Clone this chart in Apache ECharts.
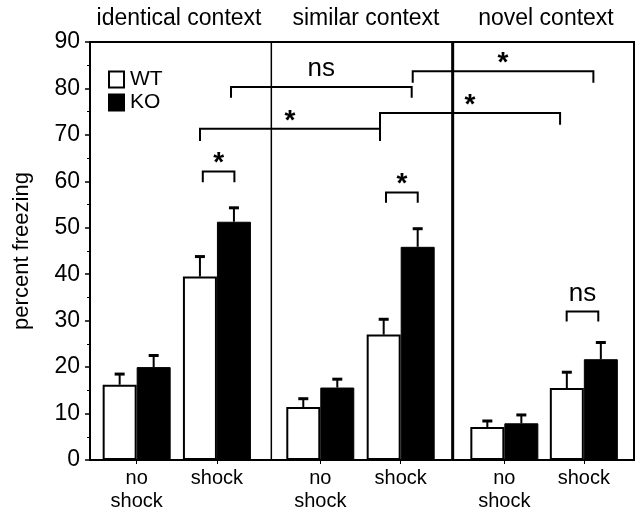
<!DOCTYPE html>
<html><head><meta charset="utf-8">
<script src="https://cdn.jsdelivr.net/npm/echarts@6/dist/echarts.min.js"></script>
<style>html,body{margin:0;padding:0;background:#fff}#c{width:643px;height:513px}</style>
</head><body><div id="c"></div>
<script>
const contexts = ['identical context', 'similar context', 'novel context'];
const groupLabels = ['no\nshock', 'shock', 'no\nshock', 'shock', 'no\nshock', 'shock'];
const groupPos = [0.772, 2.10, 3.81, 5.14, 6.855, 8.17];
const dividers = [3, 6];
const wtMean = [16.2, 39.5, 11.4, 27.0, 7.1, 15.5];
const wtSem  = [2.3, 4.3, 1.8, 3.3, 1.3, 3.4];
const koMean = [20.0, 51.3, 15.6, 45.9, 7.9, 21.7];
const koSem  = [2.5, 3.0, 1.8, 3.9, 1.8, 3.6];
const yTicks = [0, 10, 20, 30, 40, 50, 60, 70, 80, 90];
// brackets: [x1, x2, y, leftLegBottom, rightLegBottom]
const brackets = [
  [1.866, 2.389, 62.1, 59.8, 59.8],
  [4.897, 5.422, 57.6, 55.4, 55.4],
  [7.886, 8.409, 32.0, 29.8, 29.8],
  [1.820, 4.798, 71.3, 68.7, 68.7],
  [4.798, 7.777, 74.7, 71.3, 72.2],
  [2.333, 5.322, 80.3, 78.0, 78.0],
  [5.339, 8.328, 83.7, 81.2, 81.2]
];
const bracketLabels = ['*', '*', 'ns', '*', '*', 'ns', '*'];

const FONT = 'Liberation Sans';
const chart = echarts.init(document.getElementById('c'), null, {renderer: 'canvas'});
const halfBar = 17;

const errData = [];
groupPos.forEach((x, i) => { errData.push([x, wtMean[i], wtSem[i], -1]); errData.push([x, koMean[i], koSem[i], 1]); });

chart.setOption({
  animation: false,
  backgroundColor: '#fff',
  title: contexts.map((t, i) => ({
    text: t, left: [179, 366, 546][i], top: 7, textAlign: 'center', padding: 0,
    textStyle: {fontFamily: FONT, fontSize: 23, fontWeight: 'normal', color: '#000'}
  })),
  legend: {
    orient: 'vertical', left: 108, top: 69, padding: 0, itemWidth: 15, itemHeight: 16, itemGap: 2,
    icon: 'rect', data: ['WT', 'KO'],
    textStyle: {fontFamily: FONT, fontSize: 21, color: '#000', padding: [0, 0, 0, 1]}
  },
  grid: {left: 90, right: 9, top: 42, bottom: 52, show: true, borderColor: '#000', borderWidth: 2, backgroundColor: 'transparent'},
  xAxis: {
    type: 'value', min: 0, max: 9,
    splitLine: {show: false},
    axisLine: {lineStyle: {color: '#000', width: 2}},
    axisTick: {show: true, customValues: groupPos, length: 4, lineStyle: {color: '#000', width: 1}},
    axisLabel: {
      customValues: groupPos, margin: 7,
      fontFamily: FONT, fontSize: 20, color: '#000', lineHeight: 23,
      formatter: v => { const i = groupPos.findIndex(p => Math.abs(p - v) < 1e-6); return i >= 0 ? groupLabels[i] : ''; }
    }
  },
  yAxis: {
    type: 'value', min: 0, max: 90, interval: 10,
    name: 'percent freezing', nameLocation: 'middle', nameRotate: 90, nameGap: 57,
    nameTextStyle: {fontFamily: FONT, fontSize: 22, color: '#000'},
    splitLine: {show: false},
    axisLine: {show: true, lineStyle: {color: '#000', width: 2}},
    axisTick: {show: true, length: 5, lineStyle: {color: '#000', width: 1.5}},
    minorTick: {show: true, splitNumber: 2, length: 3, lineStyle: {color: '#000', width: 1}},
    axisLabel: {fontFamily: FONT, fontSize: 23, color: '#000', margin: 10,
      formatter: v => yTicks.includes(v) ? String(v) : ''}
  },
  series: [
    {
      name: 'WT', type: 'bar', barWidth: 34, barGap: '0%',
      data: groupPos.map((x, i) => [x, wtMean[i]]),
      itemStyle: {color: '#fff', borderColor: '#000', borderWidth: 2}, z: 2
    },
    {
      name: 'KO', type: 'bar', barWidth: 34, barGap: '0%',
      data: groupPos.map((x, i) => [x, koMean[i]]),
      itemStyle: {color: '#000', borderColor: '#000', borderWidth: 1}, z: 2
    },
    {
      type: 'custom', name: 'err', z: 3, silent: true,
      data: errData,
      renderItem: (params, api) => {
        const x = api.value(0), m = api.value(1), s = api.value(2), side = api.value(3);
        const b = api.coord([x, m]); const t = api.coord([x, m + s]);
        const cx = b[0] + side * halfBar;
        return {type: 'group', children: [
          {type: 'line', shape: {x1: cx, y1: b[1], x2: cx, y2: t[1]}, style: {stroke: '#000', lineWidth: 2}},
          {type: 'line', shape: {x1: cx - 5, y1: t[1], x2: cx + 5, y2: t[1]}, style: {stroke: '#000', lineWidth: 3}}
        ]};
      }
    },
    {
      type: 'custom', name: 'dividers', z: 1, silent: true,
      data: dividers.map((d, i) => [d, i]),
      renderItem: (params, api) => {
        const x = api.value(0);
        const a = api.coord([x, 0]), b = api.coord([x, 90]);
        return {type: 'line', shape: {x1: a[0], y1: a[1], x2: b[0], y2: b[1]}, style: {stroke: '#000', lineWidth: params.dataIndex === 0 ? 1.5 : 3}};
      }
    },
    {
      type: 'custom', name: 'brackets', z: 4, silent: true,
      data: brackets,
      renderItem: (params, api) => {
        const x1 = api.value(0), x2 = api.value(1), y = api.value(2), yl = api.value(3), yr = api.value(4);
        const p1 = api.coord([x1, yl]), p2 = api.coord([x1, y]), p3 = api.coord([x2, y]), p4 = api.coord([x2, yr]);
        const lab = bracketLabels[params.dataIndex];
        const cx = (p2[0] + p3[0]) / 2;
        const star = lab === '*';
        return {type: 'group', children: [
          {type: 'polyline', shape: {points: [p1, p2, p3, p4]}, style: {stroke: '#000', lineWidth: 2, fill: null}},
          {type: 'text', style: {
            text: lab, x: cx, y: p2[1] - (star ? 8 : 18), align: 'center', verticalAlign: 'middle',
            font: (star ? 'bold 28px ' : '26px ') + FONT, fill: '#000'}}
        ]};
      }
    }
  ]
});
</script></body></html>
